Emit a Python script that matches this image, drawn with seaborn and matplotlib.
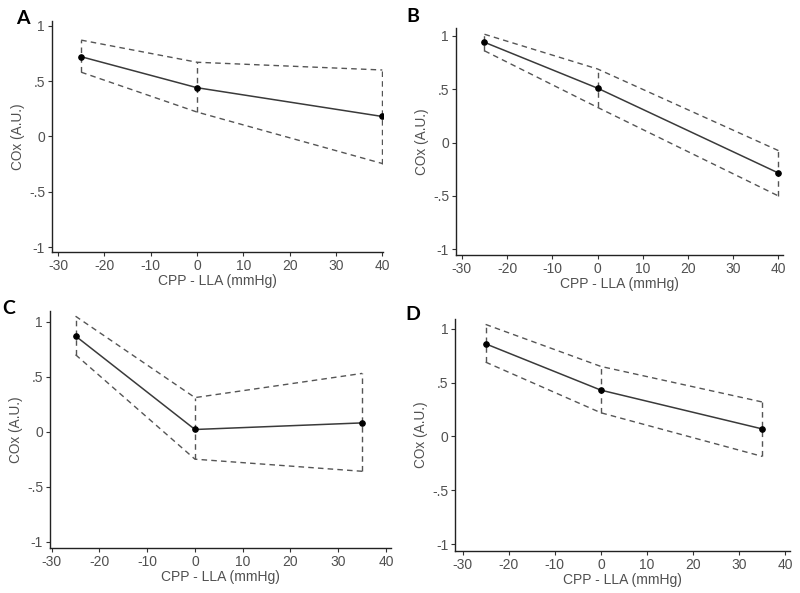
import numpy as np
import pandas as pd
import matplotlib
matplotlib.use("Agg")
import matplotlib.pyplot as plt
import seaborn as sns
from matplotlib.ticker import FuncFormatter

# CPP - LLA positions for each panel
x_A = [-25, 0, 40]
x_B = [-25, 0, 40]
x_C = [-25, 0, 35]
x_D = [-25, 0, 35]

# mean COx and dashed upper/lower bounds
mean_A = [0.72, 0.44, 0.18]
upper_A = [0.87, 0.67, 0.60]
lower_A = [0.58, 0.22, -0.245]

mean_B = [0.94, 0.51, -0.285]
upper_B = [1.015, 0.69, -0.075]
lower_B = [0.86, 0.33, -0.50]

mean_C = [0.87, 0.02, 0.08]
upper_C = [1.05, 0.31, 0.53]
lower_C = [0.70, -0.25, -0.36]

mean_D = [0.86, 0.43, 0.07]
upper_D = [1.04, 0.65, 0.32]
lower_D = [0.69, 0.22, -0.185]

panel_labels = ["A", "B", "C", "D"]
xticks = [-30, -20, -10, 0, 10, 20, 30, 40]
yticks = [-1, -0.5, 0, 0.5, 1]

sns.set_style("ticks")
plt.rcParams["font.family"] = ["Liberation Sans", "DejaVu Sans"]
plt.rcParams["axes.unicode_minus"] = False

fig = plt.figure(figsize=(8, 5.93), dpi=100)

# [left, bottom, width, height] in figure fractions, x/y limits, letter position (px)
layout = [
    ([0.065, 0.575, 0.414, 0.390], (-31.3, 40.2), (-1.045, 1.045), (23, 18)),
    ([0.570, 0.570, 0.409, 0.383], (-31.3, 41.05), (-1.053, 1.075), (413, 17)),
    ([0.0625, 0.076, 0.426, 0.400], (-30.35, 41.0), (-1.057, 1.10), (9, 309)),
    ([0.569, 0.071, 0.419, 0.391], (-31.6, 41.1), (-1.062, 1.09), (413, 314)),
]
data = [
    (x_A, mean_A, upper_A, lower_A),
    (x_B, mean_B, upper_B, lower_B),
    (x_C, mean_C, upper_C, lower_C),
    (x_D, mean_D, upper_D, lower_D),
]


def stata_fmt(v, pos):
    if v == 0:
        return "0"
    s = f"{v:g}"
    return s.replace("0.", ".")


text_col = "#505050"
dash_col = "#555555"

for (rect, xl, yl, lpos), (xs, m, up, lo), lab in zip(layout, data, panel_labels):
    ax = fig.add_axes(rect)
    df = pd.DataFrame({"x": xs, "mean": m, "upper": up, "lower": lo})

    sns.lineplot(data=df, x="x", y="upper", ax=ax, color=dash_col,
                 linewidth=1.0, linestyle=(0, (4, 3)))
    sns.lineplot(data=df, x="x", y="lower", ax=ax, color=dash_col,
                 linewidth=1.0, linestyle=(0, (4, 3)))
    ax.vlines(df["x"], df["lower"], df["upper"], colors=dash_col,
              linewidth=1.0, linestyles=(0, (4, 3)))
    sns.lineplot(data=df, x="x", y="mean", ax=ax, color="#3a3a3a",
                 linewidth=1.1, marker="o", markersize=4,
                 markerfacecolor="black", markeredgecolor="black")

    ax.set_xlim(*xl)
    ax.set_ylim(*yl)
    ax.set_xticks(xticks)
    ax.set_yticks(yticks)
    ax.yaxis.set_major_formatter(FuncFormatter(stata_fmt))
    ax.set_xlabel("CPP - LLA (mmHg)", fontsize=10, color=text_col, labelpad=1)
    ax.set_ylabel("COx (A.U.)", fontsize=9.8, color=text_col, labelpad=3)
    ax.tick_params(axis="both", labelsize=10, labelcolor=text_col,
                   length=3, width=0.8, color="#333333", pad=2)
    sns.despine(ax=ax)
    for sp in ["left", "bottom"]:
        ax.spines[sp].set_color("#222222")
        ax.spines[sp].set_linewidth(1.0)
    ax.grid(False)

    # panel letter at the top-left corner
    fig.text(lpos[0] / 800, 1 - lpos[1] / 593, lab, fontsize=14,
             fontweight="bold", family=["Lato", "DejaVu Sans"],
             ha="center", va="center", color="black")

fig.savefig("out.png", dpi=100)
